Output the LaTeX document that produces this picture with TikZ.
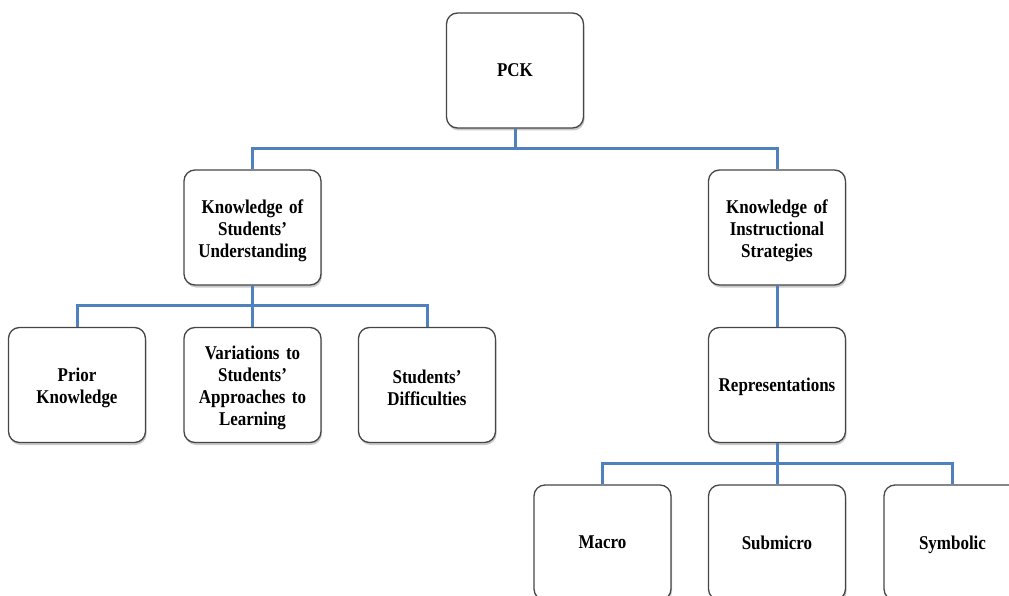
\documentclass[tikz,border=0pt]{standalone}
\usepackage{fontspec}
\setmainfont{Liberation Serif}
\newfontfamily\boxfont[FakeStretch=0.87,Ligatures=TeX]{Liberation Serif}
\usetikzlibrary{shadows}
\definecolor{linkblue}{RGB}{79,129,189}
\definecolor{boxedge}{RGB}{70,70,70}
\begin{document}
\begin{tikzpicture}[x=1pt,y=-1pt,
  box/.style={draw=boxedge, line width=1.3pt, fill=white, rounded corners=11pt,
    minimum width=137pt, minimum height=115pt, align=center, text width=128pt,
    font=\boxfont\fontsize{19.5}{22}\selectfont\bfseries,
    execute at end node={\endgraf\vspace*{-6pt}},
    drop shadow={shadow xshift=1pt, shadow yshift=-2.5pt, opacity=0.35, fill=black!60}},
  conn/.style={draw=linkblue, line width=3pt}]
\useasboundingbox (0,0) rectangle (1009,596);
\clip (0,0) rectangle (1009,596);
% top level
\node[box] (pck) at (515,70.5) {PCK};
% second level
\node[box] (ksu) at (252.5,227.5) {Knowledge of\\Students’\\Understanding};
\node[box] (kis) at (777,227.5) {Knowledge of\\Instructional\\Strategies};
% third level
\node[box] (prior) at (77,385) {Prior\\Knowledge};
\node[box] (var) at (252.5,385) {Variations to\\Students’\\Approaches to\\Learning};
\node[box] (diff) at (427,385) {Students’\\Difficulties};
\node[box] (rep) at (777,385) {Representations};
% fourth level
\node[box] (macro) at (602.5,542.5) {Macro};
\node[box] (sub) at (777,542.5) {Submicro};
\node[box] (sym) at (952.5,542.5) {Symbolic};
% connectors
\draw[conn] (pck.south) -- ++(0,20) -| (ksu.north);
\draw[conn] (pck.south) -- ++(0,20) -| (kis.north);
\draw[conn] (ksu.south) -- ++(0,20) -| (prior.north);
\draw[conn] (ksu.south) -- (var.north);
\draw[conn] (ksu.south) -- ++(0,20) -| (diff.north);
\draw[conn] (kis.south) -- (rep.north);
\draw[conn] (rep.south) -- ++(0,20) -| (macro.north);
\draw[conn] (rep.south) -- (sub.north);
\draw[conn] (rep.south) -- ++(0,20) -| (sym.north);
\end{tikzpicture}
\end{document}
